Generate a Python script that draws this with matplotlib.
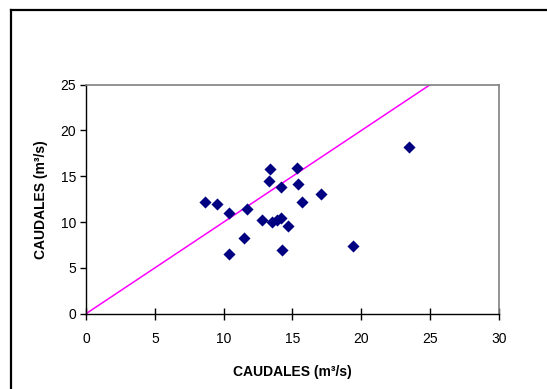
import matplotlib.pyplot as plt
from matplotlib.lines import Line2D

plt.rcParams['font.family'] = ['Liberation Sans', 'DejaVu Sans']

# Caudales observados vs calculados
x_vals = [8.66, 9.49, 10.38, 11.69, 11.50, 10.36, 12.78, 13.40, 13.27, 13.52,
          13.91, 14.13, 14.13, 14.71, 14.21, 15.32, 15.42, 15.72, 17.10, 19.41, 23.46]
y_vals = [12.16, 11.98, 10.96, 11.46, 8.22, 6.51, 10.20, 15.80, 14.45, 9.99,
          10.23, 10.48, 13.78, 9.57, 6.99, 15.94, 14.13, 12.16, 13.07, 7.42, 18.20]

# linea 1:1
line_x = [0, 25]
line_y = [0, 25]

fig = plt.figure(figsize=(5.47, 3.89), dpi=100)
ax = fig.add_axes([0.1572, 0.1936, 0.755, 0.5887])

ax.plot(line_x, line_y, color='#FF00FF', linewidth=1.1, zorder=2)
ax.scatter(x_vals, y_vals, marker='D', s=38, color='#000080', zorder=3, linewidths=0)

ax.set_xlim(0, 30)
ax.set_ylim(0, 25)
ax.set_xticks(range(0, 31, 5))
ax.set_yticks(range(0, 26, 5))

for s in ['top', 'right']:
    ax.spines[s].set_color('#808080')
    ax.spines[s].set_linewidth(1.2)
for s in ['left', 'bottom']:
    ax.spines[s].set_color('black')
    ax.spines[s].set_linewidth(1.0)

ax.tick_params(axis='x', direction='inout', length=8, width=1, labelsize=10, pad=9)
ax.tick_params(axis='y', direction='out', length=4, width=1, labelsize=10, pad=3)

ax.set_xlabel('CAUDALES (m³/s)', fontsize=10, fontweight='bold', labelpad=14)
ax.set_ylabel('CAUDALES (m³/s)', fontsize=10, fontweight='bold', labelpad=9)

# marco exterior
fig.add_artist(Line2D([11 / 547, 11 / 547], [0, 1 - 10 / 389], color='black', linewidth=1.6,
                      transform=fig.transFigure))
fig.add_artist(Line2D([11 / 547, 1], [1 - 10 / 389, 1 - 10 / 389], color='black', linewidth=1.6,
                      transform=fig.transFigure))

fig.savefig('out.png', dpi=100)
